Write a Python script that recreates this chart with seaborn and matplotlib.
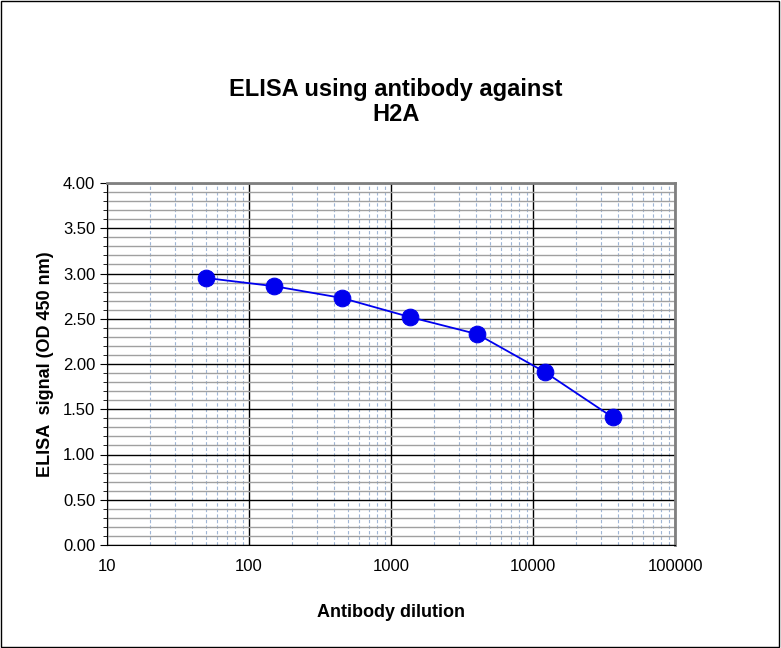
import matplotlib
matplotlib.use("Agg")
import matplotlib.pyplot as plt
from matplotlib.ticker import LogLocator, MultipleLocator, FixedLocator, NullFormatter
import seaborn as sns
import pandas as pd

dilution = [50, 150, 450, 1350, 4050, 12150, 36450]
signal = [2.95, 2.86, 2.73, 2.52, 2.33, 1.91, 1.41]

df = pd.DataFrame({"dilution": dilution, "signal": signal})

sns.set_style("white")
plt.rcParams["font.family"] = ["Liberation Sans", "DejaVu Sans"]
plt.rcParams["text.color"] = "black"
plt.rcParams["axes.labelcolor"] = "black"
plt.rcParams["xtick.color"] = "black"
plt.rcParams["ytick.color"] = "black"

fig = plt.figure(figsize=(7.81, 6.48), dpi=100)
ax = fig.add_axes([107 / 781, 1 - 545 / 648, (675 - 107) / 781, (545 - 183) / 648])

sns.lineplot(data=df, x="dilution", y="signal", ax=ax, color="#0000ee", lw=1.3,
             marker="o", markersize=12, markeredgecolor="#0000ee", markerfacecolor="#0000ee", zorder=5)

ax.set_xscale("log")
ax.set_xlim(10, 100000)
ax.set_ylim(0, 4)
ax.xaxis.set_major_locator(FixedLocator([10, 100, 1000, 10000, 100000]))
ax.set_xticklabels(["10", "100", "1000", "10000", "100000"])
ax.xaxis.set_minor_locator(LogLocator(base=10, subs=range(2, 10)))
ax.xaxis.set_minor_formatter(NullFormatter())
ax.yaxis.set_major_locator(MultipleLocator(0.5))
ax.yaxis.set_minor_locator(MultipleLocator(0.1))
ax.yaxis.set_major_formatter(lambda v, p: f"{v:.2f}")

ax.grid(which="major", color="black", lw=1)
ax.grid(which="minor", axis="y", color="#a0a0a0", lw=1)
ax.grid(which="minor", axis="x", color="#9fb6d6", lw=0.8, ls=(0, (3, 2)))
ax.set_axisbelow(True)

ax.tick_params(which="major", axis="y", length=5, direction="out", labelsize=12, left=True)
ax.tick_params(which="minor", axis="y", length=3, direction="out", left=True)
ax.tick_params(which="major", axis="x", length=0, labelsize=12, pad=10)
ax.tick_params(which="minor", axis="x", length=0)
for s in ["left", "bottom"]:
    ax.spines[s].set_color("black")
for s in ["top", "right"]:
    ax.spines[s].set_color("#808080")
    ax.spines[s].set_linewidth(2)

ax.set_xlabel("Antibody dilution", fontsize=13, fontweight="bold", labelpad=22)
ax.set_ylabel("ELISA  signal (OD 450 nm)", fontsize=13, fontweight="bold", labelpad=6)
fig.text(396 / 781, 1 - 102 / 648, "ELISA using antibody against\nH2A", ha="center", va="center",
         fontsize=17, fontweight="bold", linespacing=1.15)

border = plt.Rectangle((0.001, 0.001), 0.997, 0.997, transform=fig.transFigure, fill=False, color="black", lw=1)
fig.patches.append(border)

fig.savefig("out.png", dpi=100)
